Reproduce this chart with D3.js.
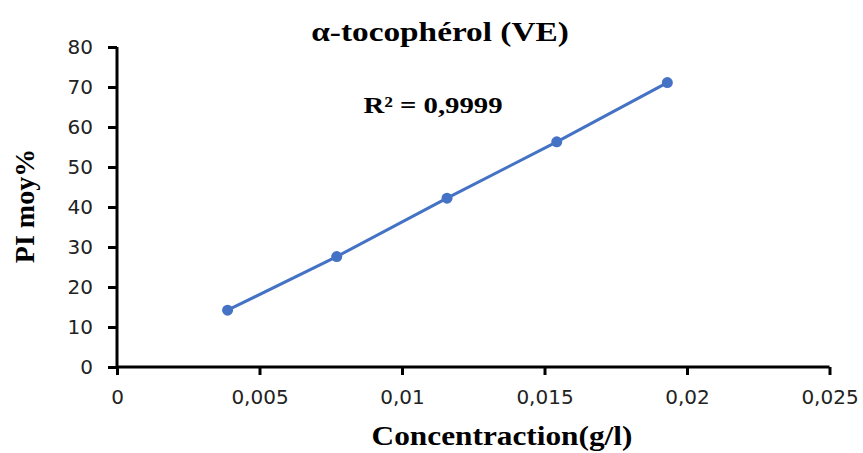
<!DOCTYPE html>
<html>
<head>
<meta charset="utf-8">
<script src="https://cdn.jsdelivr.net/npm/d3@7"></script>
<style>
  body { margin: 0; background: #fff; }
  svg text { fill: #000; }
  .tick text { font-family: "DejaVu Sans", sans-serif; font-size: 20px; fill: #222; }
  .serif { font-family: "Liberation Serif", "Times New Roman", serif; font-weight: bold; }
</style>
</head>
<body>
<div id="chart"></div>
<script>
// données
const concentration = [0.00388, 0.00771, 0.01158, 0.01543, 0.01931];
const piMoy = [14.2, 27.6, 42.2, 56.3, 71.1];
const xTicks = [0, 0.005, 0.01, 0.015, 0.02, 0.025];
const yTicks = [0, 10, 20, 30, 40, 50, 60, 70, 80];
const r2Label = "R² = 0,9999";

const W = 863, H = 453;
const margin = {top: 47, right: 34, bottom: 86, left: 117};
const height = H - margin.top - margin.bottom;

const svg = d3.select("#chart").append("svg")
  .attr("width", W).attr("height", H);

const g = svg.append("g")
  .attr("transform", `translate(${margin.left},${margin.top})`);

const x = d3.scaleLinear().domain([0, 0.025]).range([0, 712.5]);
const y = d3.scaleLinear().domain([0, 80]).range([height, 0]);

const fmt = d => d3.format("")(d).replace(".", ",");

// axes
const xAxis = g.append("g")
  .attr("transform", `translate(0,${height})`)
  .call(d3.axisBottom(x).tickValues(xTicks).tickFormat(fmt).tickSize(8).tickPadding(15));
const yAxis = g.append("g")
  .call(d3.axisLeft(y).tickValues(yTicks).tickSize(9).tickPadding(15));

[xAxis, yAxis].forEach(a => {
  a.select(".domain").attr("stroke", "#000").attr("stroke-width", 3);
  a.selectAll(".tick line").attr("stroke", "#000").attr("stroke-width", 3);
});
xAxis.select(".domain").attr("d", `M0,0H${x(0.025)}`);
yAxis.select(".domain").attr("d", `M0,${height}V0`);

// série
const pts = concentration.map((c, i) => [c, piMoy[i]]);
g.append("path")
  .datum(pts)
  .attr("fill", "none")
  .attr("stroke", "#4472C4")
  .attr("stroke-width", 3)
  .attr("d", d3.line().x(d => x(d[0])).y(d => y(d[1])));

g.selectAll("circle.pt")
  .data(pts)
  .enter().append("circle")
    .attr("class", "pt")
    .attr("cx", d => x(d[0]))
    .attr("cy", d => y(d[1]))
    .attr("r", 5.5)
    .attr("fill", "#4472C4");

// textes (légèrement étirés en largeur comme dans l'original)
function label(txt, cx, cy, size, sx) {
  svg.append("text").attr("class", "serif")
    .attr("transform", `translate(${cx},${cy}) scale(${sx},1)`)
    .attr("text-anchor", "middle").style("font-size", size + "px")
    .text(txt);
}
label("α-tocophérol (VE)", 440, 41, 28, 1.19);
label(r2Label, 433, 113, 23, 1.25);
label("Concentraction(g/l)", 502, 445, 27, 1.16);

svg.append("text").attr("class", "serif")
  .attr("transform", "translate(34,206) rotate(-90)")
  .attr("text-anchor", "middle").style("font-size", "28px")
  .text("PI moy%");
</script>
</body>
</html>
